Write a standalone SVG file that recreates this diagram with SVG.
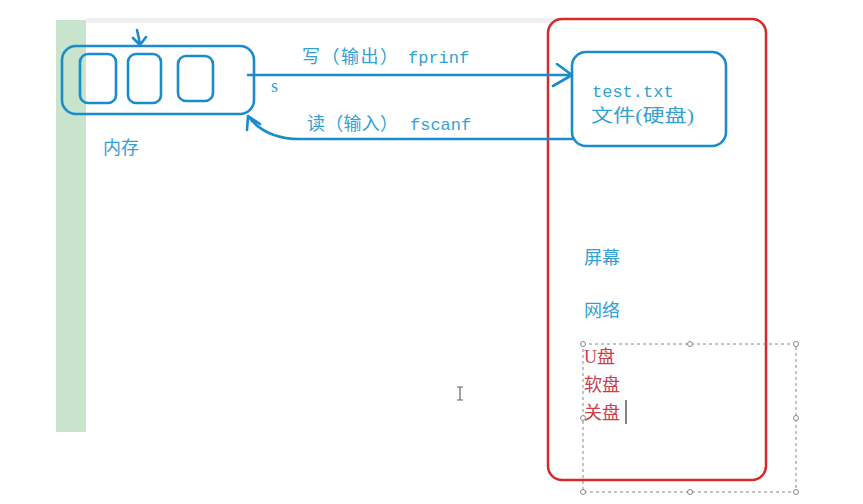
<svg xmlns="http://www.w3.org/2000/svg" width="863" height="504" viewBox="0 0 863 504">
<style>
.b{fill:none;stroke:#1a8ccc;stroke-width:2.6;stroke-linecap:round;stroke-linejoin:round}
.t{font-family:"Liberation Serif","Noto Sans CJK SC",serif;font-size:18px;fill:#35a0d2}
.m{font-family:"Liberation Mono","Noto Sans CJK SC",monospace;font-size:17px;fill:#35a0d2}
.r{font-family:"Liberation Serif","Noto Sans CJK SC",serif;font-size:18px;fill:#c8404a}
.h{fill:#fff;stroke:#888;stroke-width:1}
</style>
<rect width="863" height="504" fill="#fff"/>
<rect x="56" y="20" width="30" height="412" fill="#c8e4cc"/>
<rect x="86" y="18" width="470" height="5" fill="#f0f0f0"/>
<g id="memory">
<rect class="b" x="62" y="46" width="192" height="68" rx="14"/>
<rect class="b" x="80" y="54" width="36" height="49" rx="8"/>
<rect class="b" x="128" y="54" width="33" height="49" rx="8"/>
<rect class="b" x="178" y="56" width="35" height="45" rx="8"/>
<path class="b" d="M137 30 Q139 38 140 45 M133 38 L140 45 L146 37"/>
<text class="t" x="103" y="154">内存</text>
</g>
<g id="file">
<rect class="b" x="572" y="52" width="154" height="94" rx="14"/>
<text class="m" x="592" y="97">test.txt</text>
<text class="t" x="591" y="122" font-size="19" textLength="103" lengthAdjust="spacingAndGlyphs">文件(硬盘)</text>
</g>
<g id="device">
<rect x="548" y="19" width="218" height="461" rx="14" fill="none" stroke="#d42a2a" stroke-width="2.5"/>
<text class="t" x="584" y="264">屏幕</text>
<text class="t" x="584" y="317">网络</text>
</g>
<g id="connectors">
<path class="b" d="M248 75 L572 75 M557 64 L572 75 L553 86"/>
<path class="b" d="M572 139 L300 139 Q265 139 248 116 M247 130 L248 116 L260 124"/>
<text class="t" x="302" y="63" textLength="96" lengthAdjust="spacing">写（输出）</text>
<text class="m" x="408" y="63">fprinf</text>
<text class="t" x="307" y="130" textLength="91" lengthAdjust="spacing">读（输入）</text>
<text class="m" x="410" y="130">fscanf</text>
<text class="t" x="271" y="92" font-size="15">s</text>
</g>
<g id="selection">
<rect x="583" y="344" width="213" height="148" fill="none" stroke="#888" stroke-width="1" stroke-dasharray="3,3"/>
<circle class="h" cx="583" cy="344" r="2.5"/><circle class="h" cx="690" cy="344" r="2.5"/><circle class="h" cx="796" cy="344" r="2.5"/>
<circle class="h" cx="583" cy="418" r="2.5"/><circle class="h" cx="796" cy="418" r="2.5"/>
<circle class="h" cx="583" cy="492" r="2.5"/><circle class="h" cx="690" cy="492" r="2.5"/><circle class="h" cx="796" cy="492" r="2.5"/>
<text class="r" x="584" y="363">U盘</text>
<text class="r" x="584" y="391">软盘</text>
<text class="r" x="584" y="419">关盘</text>
<line x1="626" y1="400" x2="626" y2="424" stroke="#333" stroke-width="1.2"/>
</g>
<path d="M457 387 h6 M460 387 v13 M457 400 h6" stroke="#666" stroke-width="1.2" fill="none"/>
</svg>
